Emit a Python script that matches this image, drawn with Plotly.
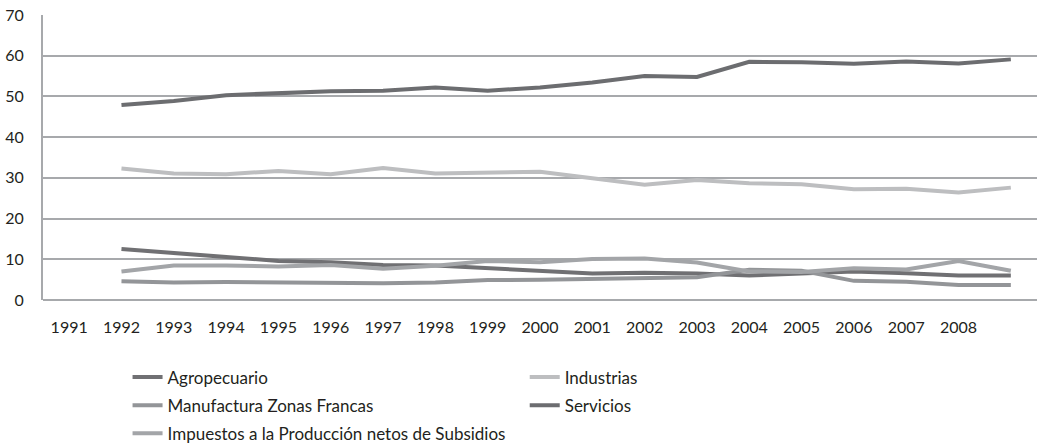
import plotly.graph_objects as go

# Years plotted on the category axis (ticks labelled 1991-2008)
years = [1992, 1993, 1994, 1995, 1996, 1997, 1998, 1999, 2000,
         2001, 2002, 2003, 2004, 2005, 2006, 2007, 2008, 2009]
tick_years = [1991, 1992, 1993, 1994, 1995, 1996, 1997, 1998, 1999,
              2000, 2001, 2002, 2003, 2004, 2005, 2006, 2007, 2008]

agropecuario = [12.5, 11.5, 10.4, 9.6, 9.3, 8.6, 8.5, 7.9, 7.2,
                6.5, 6.7, 6.5, 6.0, 6.6, 7.0, 6.6, 6.0, 6.0]
industrias = [32.3, 31.1, 30.9, 31.7, 30.9, 32.4, 31.1, 31.3, 31.5,
              29.9, 28.3, 29.5, 28.7, 28.4, 27.2, 27.3, 26.4, 27.6]
manufactura = [4.6, 4.3, 4.4, 4.3, 4.3, 4.1, 4.3, 4.9, 5.0,
               5.2, 5.2, 5.6, 7.4, 7.2, 4.7, 4.5, 3.7, 3.7]
servicios = [47.9, 48.9, 50.3, 50.8, 51.3, 51.4, 52.2, 51.4, 52.2,
             53.4, 55.0, 54.8, 58.5, 58.4, 58.0, 58.6, 58.1, 59.1]
impuestos = [7.0, 8.5, 8.5, 8.2, 8.6, 7.7, 8.4, 9.6, 9.3,
             10.1, 10.2, 9.2, 7.0, 6.9, 7.8, 7.5, 9.6, 7.2]

series = [
    ("Agropecuario", agropecuario, "#707073", "legend"),
    ("Industrias", industrias, "#bdbec0", "legend2"),
    ("Manufactura Zonas Francas", manufactura, "#939598", "legend"),
    ("Servicios", servicios, "#6c6d70", "legend2"),
    ("Impuestos a la Producción netos de Subsidios", impuestos, "#a3a5a8", "legend"),
]

fig = go.Figure()
for i, (name, vals, color, leg) in enumerate(series):
    fig.add_trace(go.Scatter(
        x=years, y=vals, name=name, mode="lines",
        line=dict(color=color, width=4),
        legend=leg, legendgroup=f"g{i}",
    ))

font_family = "Lato, 'Open Sans', sans-serif"
text_color = "#231f20"
legend_common = dict(
    orientation="v", yanchor="top", xanchor="left",
    xref="container", yref="container",
    font=dict(family=font_family, size=17, color=text_color),
    bgcolor="rgba(0,0,0,0)", tracegroupgap=3, borderwidth=0,
)

fig.update_layout(
    width=1037, height=445,
    margin=dict(l=43, r=0, t=15, b=145, autoexpand=False),
    paper_bgcolor="white", plot_bgcolor="white",
    font=dict(family=font_family, size=16, color=text_color),
    showlegend=True,
    legend=dict(x=0.123, y=0.192, **legend_common),
    legend2=dict(x=0.506, y=0.192, **legend_common),
    xaxis=dict(
        range=[1990.5, 2009.5], tickmode="array",
        tickvals=tick_years, ticktext=[str(y) for y in tick_years],
        showgrid=False, zeroline=False, showline=False, automargin=False,
        ticks="", ticklabelstandoff=16,
        tickfont=dict(family=font_family, size=16, color=text_color),
    ),
    yaxis=dict(
        range=[0, 70], dtick=10, tick0=0, automargin=False,
        showgrid=True, gridcolor="#a7a9ac", gridwidth=1.5,
        zeroline=True, zerolinecolor="#a7a9ac", zerolinewidth=2,
        showline=True, linecolor="#a7a9ac", linewidth=2,
        ticks="", ticklabelstandoff=14,
        tickfont=dict(family=font_family, size=16, color=text_color),
    ),
)

fig.write_html("out.html")
